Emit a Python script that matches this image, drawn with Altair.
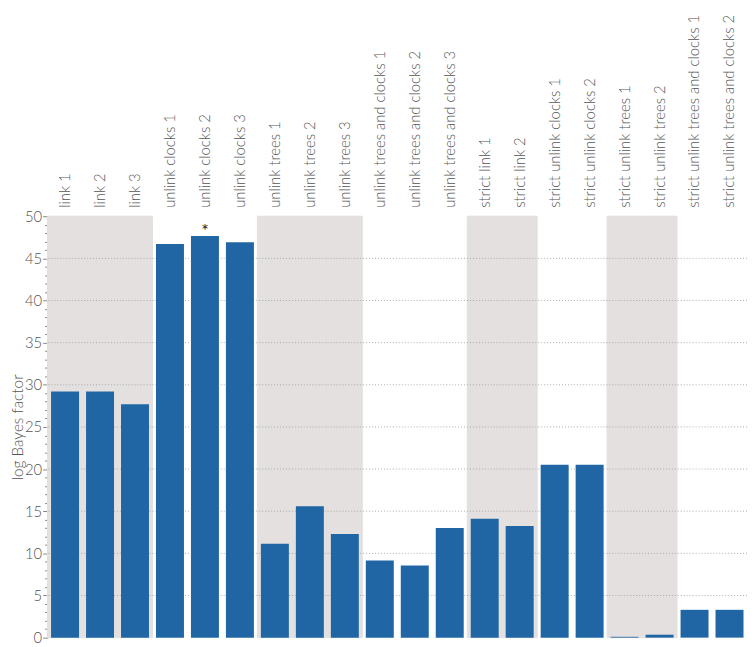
import altair as alt
import pandas as pd

categories = [
    "link 1", "link 2", "link 3",
    "unlink clocks 1", "unlink clocks 2", "unlink clocks 3",
    "unlink trees 1", "unlink trees 2", "unlink trees 3",
    "unlink trees and clocks 1", "unlink trees and clocks 2", "unlink trees and clocks 3",
    "strict link 1", "strict link 2",
    "strict unlink clocks 1", "strict unlink clocks 2",
    "strict unlink trees 1", "strict unlink trees 2",
    "strict unlink trees and clocks 1", "strict unlink trees and clocks 2",
]
values = [
    29.2, 29.2, 27.7,
    46.7, 47.65, 46.9,
    11.15, 15.6, 12.3,
    9.15, 8.55, 13.0,
    14.1, 13.25,
    20.5, 20.5,
    0.1, 0.35,
    3.3, 3.3,
]
groups = (["link"] * 3 + ["unlink clocks"] * 3 + ["unlink trees"] * 3 +
          ["unlink trees and clocks"] * 3 + ["strict link"] * 2 +
          ["strict unlink clocks"] * 2 + ["strict unlink trees"] * 2 +
          ["strict unlink trees and clocks"] * 2)
shaded_groups = ["link", "unlink trees", "strict link", "strict unlink trees"]
grid_values = [5, 10, 15, 20, 25, 30, 35, 40, 45]
tick_values = list(range(0, 51))
y_max = 50
star_category = "unlink clocks 2"

df = pd.DataFrame({"category": categories, "value": values, "group": groups})
df["shaded"] = df["group"].isin(shaded_groups)
df["band_top"] = y_max
df["star"] = df["category"] == star_category

FONT = "Lato"
TEXT_COLOR = "#555555"
BAND = "#e4e0e0"

xscale = alt.Scale(domain=categories, paddingInner=0, paddingOuter=0)
yscale = alt.Scale(domain=[0, y_max], nice=False)

x_axis = alt.Axis(orient="top", labelAngle=-90, labelAlign="left", labelBaseline="middle",
                  title=None, ticks=False, domain=False, labelPadding=9,
                  labelFontSize=15, labelColor=TEXT_COLOR, labelLimit=400,
                  labelFont=FONT, labelFontWeight=300, labelOverlap=False)
y_axis = alt.Axis(values=tick_values, tickCount=len(tick_values) + 10,
                  labelExpr="datum.value % 5 === 0 ? datum.label : ''",
                  labelOverlap=False,
                  tickSize=5,
                  tickDash={"condition": {"test": "datum.value % 5 === 0", "value": [5, 0]},
                            "value": [3, 10]},
                  tickColor="#888888", domainColor="#888888", grid=False,
                  labelFontSize=15, labelColor=TEXT_COLOR, labelFont=FONT, labelFontWeight=300,
                  labelPadding=1,
                  title="log Bayes factor", titleFontSize=15.5, titleFontWeight=300,
                  titleColor=TEXT_COLOR, titleFont=FONT, titleX=-22, titleBaseline="bottom")

bands = alt.Chart(df).transform_filter("datum.shaded").mark_bar(
    color=BAND, stroke=BAND, strokeWidth=1, width=alt.RelativeBandSize(1)
).encode(
    x=alt.X("category:N", scale=xscale, axis=x_axis, sort=categories),
    y=alt.Y("band_top:Q", scale=yscale, axis=y_axis),
)

grid = alt.Chart(pd.DataFrame({"g": grid_values})).mark_rule(
    color="#9a9a9a", strokeDash=[1, 2], strokeWidth=0.8
).encode(y=alt.Y("g:Q", scale=yscale))

bars = alt.Chart(df).mark_bar(
    color="#2166a4", width=alt.RelativeBandSize(0.8)
).encode(
    x=alt.X("category:N", scale=xscale, sort=categories),
    y=alt.Y("value:Q", scale=yscale),
)

star = alt.Chart(df).transform_filter("datum.star").mark_text(
    text="*", fontSize=18, baseline="bottom", dy=5, color="#222222", font=FONT
).encode(
    x=alt.X("category:N", scale=xscale, sort=categories),
    y=alt.Y("value:Q", scale=yscale),
)

chart = alt.layer(bands, grid, bars, star).properties(
    width=707, height=426,
    autosize=alt.AutoSizeParams(type="none"),
    padding={"left": 40, "top": 207, "right": 0, "bottom": 6},
).configure_view(stroke=None).configure_axis(labelOverlap=False)

chart.save("out.html", embed_options={"renderer": "svg", "actions": False})
